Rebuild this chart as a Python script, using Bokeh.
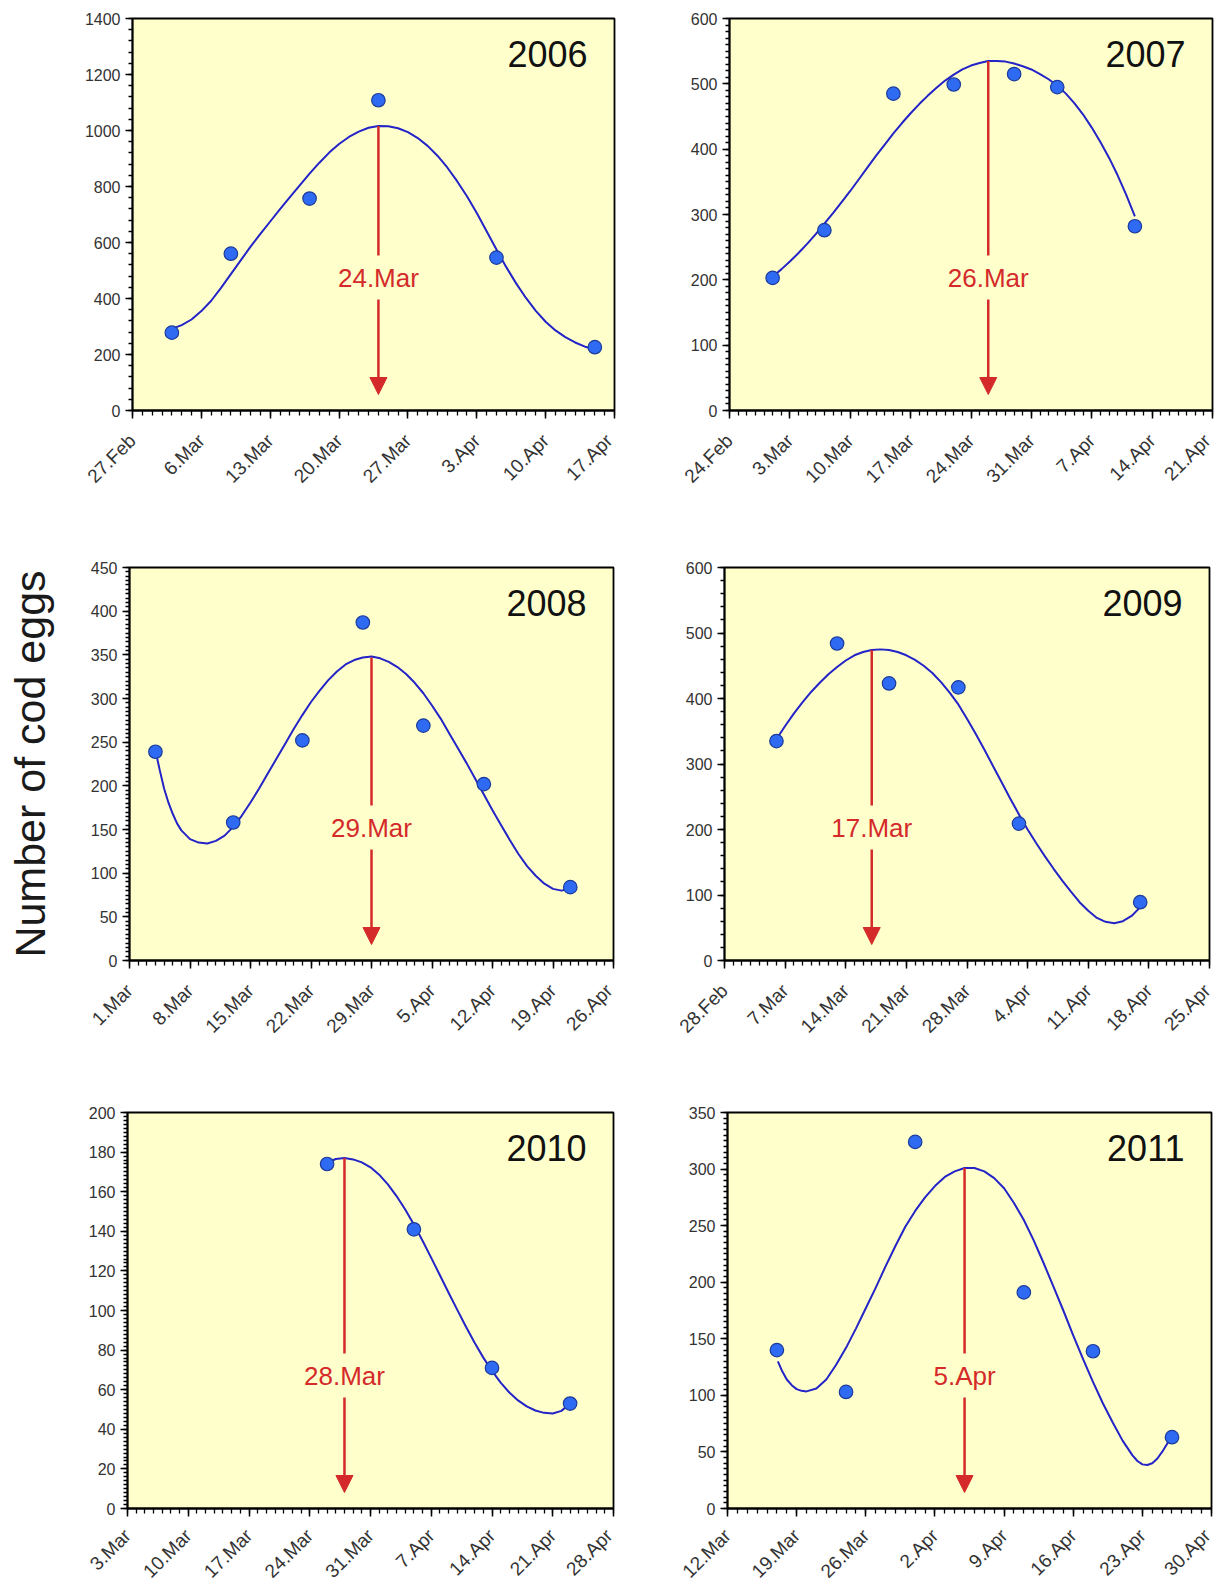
import numpy as np
import pandas as pd
from bokeh.plotting import figure
from bokeh.layouts import column, row
from bokeh.models import Range1d, FixedTicker, Label, Arrow, NormalHead
from bokeh.embed import file_html
from bokeh.resources import INLINE

# ---------------- data ----------------
years = ["2006", "2007", "2008", "2009", "2010", "2011"]
axis_start = ["2006-02-27", "2007-02-24", "2008-03-01", "2009-02-28", "2010-03-03", "2011-03-12"]
axis_days = [49, 56, 56, 56, 56, 49]
y_max = [1400, 600, 450, 600, 200, 350]
y_major = [200, 100, 50, 100, 20, 50]
y_minor = [40, 10, 5, 20, 2, 5]

xlabels_2006 = ["27.Feb", "6.Mar", "13.Mar", "20.Mar", "27.Mar", "3.Apr", "10.Apr", "17.Apr"]
xlabels_2007 = ["24.Feb", "3.Mar", "10.Mar", "17.Mar", "24.Mar", "31.Mar", "7.Apr", "14.Apr", "21.Apr"]
xlabels_2008 = ["1.Mar", "8.Mar", "15.Mar", "22.Mar", "29.Mar", "5.Apr", "12.Apr", "19.Apr", "26.Apr"]
xlabels_2009 = ["28.Feb", "7.Mar", "14.Mar", "21.Mar", "28.Mar", "4.Apr", "11.Apr", "18.Apr", "25.Apr"]
xlabels_2010 = ["3.Mar", "10.Mar", "17.Mar", "24.Mar", "31.Mar", "7.Apr", "14.Apr", "21.Apr", "28.Apr"]
xlabels_2011 = ["12.Mar", "19.Mar", "26.Mar", "2.Apr", "9.Apr", "16.Apr", "23.Apr", "30.Apr"]

dates_2006 = ["2006-03-03", "2006-03-09", "2006-03-17", "2006-03-24", "2006-04-05", "2006-04-15"]
eggs_2006 = [278, 560, 757, 1108, 546, 226]
dates_2007 = ["2007-03-01", "2007-03-07", "2007-03-15", "2007-03-22", "2007-03-29", "2007-04-03", "2007-04-12"]
eggs_2007 = [203, 276, 485, 499, 515, 495, 282]
dates_2008 = ["2008-03-04", "2008-03-13", "2008-03-21", "2008-03-28", "2008-04-04", "2008-04-11", "2008-04-21"]
eggs_2008 = [239, 158, 252, 387, 269, 202, 84]
dates_2009 = ["2009-03-06", "2009-03-13", "2009-03-19", "2009-03-27", "2009-04-03", "2009-04-17"]
eggs_2009 = [335, 484, 423, 417, 209, 89]
dates_2010 = ["2010-03-26", "2010-04-05", "2010-04-14", "2010-04-23"]
eggs_2010 = [174, 141, 71, 53]
dates_2011 = ["2011-03-17", "2011-03-24", "2011-03-31", "2011-04-11", "2011-04-18", "2011-04-26"]
eggs_2011 = [140, 103, 324, 191, 139, 63]

# fitted curves (days after the first axis date, eggs)
fit_day_2006 = [4.2, 5, 6, 7, 8, 9, 10, 11, 12, 13, 14, 15, 16, 17, 18, 19, 20, 21, 22, 23, 24, 25,
                26, 27, 28, 29, 30, 31, 32, 33, 34, 35, 36, 37, 38, 39, 40, 41, 42, 43, 44, 45, 46, 47]
fit_eggs_2006 = [294, 305, 325, 355, 392, 438, 487, 536, 585, 631, 675, 719, 762, 804, 846, 885, 921,
                 952, 977, 996, 1010, 1016, 1015, 1008, 994, 973, 945, 910, 868, 819, 765, 705, 640,
                 575, 512, 454, 402, 356, 317, 286, 262, 243, 228, 219]
fit_day_2007 = [5.3, 6, 7, 8, 9, 10, 11, 12, 13, 14, 15, 16, 17, 18, 19, 20, 21, 22, 23, 24, 25, 26,
                27, 28, 29, 30, 31, 32, 33, 34, 35, 36, 37, 38, 39, 40, 41, 42, 43, 44, 45, 46, 47]
fit_eggs_2007 = [208, 216, 228, 241, 255, 270, 286, 302, 319, 336, 354, 372, 390, 407, 424, 440, 455,
                 469, 482, 494, 505, 514, 522, 528, 532, 535, 535, 534, 531, 527, 522, 515, 507, 497,
                 485, 470, 453, 433, 411, 387, 360, 330, 297]
fit_day_2008 = [3.1, 3.5, 4, 4.5, 5, 5.5, 6, 7, 8, 9, 10, 11, 12, 13, 14, 15, 16, 17, 18, 19, 20, 21,
                22, 23, 24, 25, 26, 27, 28, 29, 30, 31, 32, 33, 34, 35, 36, 37, 38, 39, 40, 41, 42,
                43, 44, 45, 46, 47, 48, 49, 50, 50.8]
fit_eggs_2008 = [236, 218, 197, 181, 168, 157, 149, 139, 135, 134, 137, 143, 153, 166, 181, 197, 214,
                 231, 248, 265, 281, 296, 309, 321, 331, 339, 344, 347, 348, 346, 342, 336, 328, 318,
                 306, 292, 277, 260, 243, 226, 208, 190, 172, 155, 138, 122, 108, 97, 88, 82, 80, 82]
fit_day_2009 = [6.2, 7, 8, 9, 10, 11, 12, 13, 14, 15, 16, 17, 18, 19, 20, 21, 22, 23, 24, 25, 26, 27,
                28, 29, 30, 31, 32, 33, 34, 35, 36, 37, 38, 39, 40, 41, 42, 43, 44, 45, 46, 47, 47.9]
fit_eggs_2009 = [342, 358, 377, 394, 410, 424, 437, 448, 458, 466, 471, 474, 475, 474, 471, 466, 459,
                 450, 439, 425, 409, 391, 369, 346, 322, 297, 272, 247, 223, 200, 179, 159, 140, 122,
                 105, 89, 76, 65, 59, 57, 60, 68, 80]
fit_day_2010 = [23.2, 24, 25, 26, 27, 28, 29, 30, 31, 32, 33, 34, 35, 36, 37, 38, 39, 40, 41, 42, 43,
                44, 45, 46, 47, 48, 49, 50, 51]
fit_eggs_2010 = [175, 176.5, 177, 176.3, 174.8, 172.3, 168.6, 163.7, 157.8, 151, 143.4, 135.2, 126.6,
                 117.8, 109, 100.3, 91.8, 83.7, 76.2, 69.5, 63.6, 58.6, 54.6, 51.6, 49.5, 48.3, 48,
                 49.3, 53]
fit_day_2011 = [5.1, 5.5, 6, 6.5, 7, 7.5, 8, 9, 10, 11, 12, 13, 14, 15, 16, 17, 18, 19, 20, 21, 22, 23,
                24, 25, 26, 27, 28, 29, 30, 31, 32, 33, 34, 35, 36, 37, 38, 39, 40, 41, 41.5, 42,
                42.5, 43, 43.5, 44, 44.5, 44.9]
fit_eggs_2011 = [130, 122, 114, 109, 105.5, 104, 103.5, 106, 114, 127, 142, 159, 177, 195, 214, 232,
                 249, 263, 275, 285, 293, 298, 301, 301, 298, 292, 283, 270, 255, 237, 217, 196, 175,
                 153, 132, 112, 93, 76, 60, 47, 42, 39, 38.5, 40, 44, 50, 57, 64]

peak_date = ["2006-03-24", "2007-03-26", "2008-03-29", "2009-03-17", "2010-03-28", "2011-04-05"]
peak_label = ["24.Mar", "26.Mar", "29.Mar", "17.Mar", "28.Mar", "5.Apr"]
peak_eggs = [1016, 535, 347, 474, 177, 301]

y_title = "Number of cod eggs"

# ---------------- style / layout ----------------
FONT = "Liberation Sans"
YELLOW = "#FFFFCC"
RED = "#D42A2A"
CURVE = "#2323C8"
DOT_FILL = "#2F6BF2"
DOT_LINE = "#1B3A9C"
TICK_TXT = "#333333"

row_h = [557, 545, 491]
row_bt = [18, 10, 10]
frame_h = [392, 393, 396]
row_xstandoff = [19, 19, 16]
col_w = [616, 598]
b_left = [[132, 113], [129, 108], [127, 111]]
b_right = [[2, 2], [3, 5], [3, 3]]

all_dates = [dates_2006, dates_2007, dates_2008, dates_2009, dates_2010, dates_2011]
all_eggs = [eggs_2006, eggs_2007, eggs_2008, eggs_2009, eggs_2010, eggs_2011]
all_fd = [fit_day_2006, fit_day_2007, fit_day_2008, fit_day_2009, fit_day_2010, fit_day_2011]
all_fe = [fit_eggs_2006, fit_eggs_2007, fit_eggs_2008, fit_eggs_2009, fit_eggs_2010, fit_eggs_2011]
all_xl = [xlabels_2006, xlabels_2007, xlabels_2008, xlabels_2009, xlabels_2010, xlabels_2011]


def make_panel(i):
    r, c = divmod(i, 2)
    w, h, fh = col_w[c], row_h[r], frame_h[r]
    bl, br = b_left[r][c], b_right[r][c]
    bt = row_bt[r]
    bb = h - bt - fh
    fw = w - bl - br
    nd, ym = axis_days[i], y_max[i]
    start = pd.Timestamp(axis_start[i])

    p = figure(width=w, height=h, x_range=Range1d(0, nd), y_range=Range1d(0, ym),
               output_backend="svg", toolbar_location=None,
               min_border_left=bl, min_border_right=br, min_border_top=bt, min_border_bottom=bb)
    p.background_fill_color = YELLOW
    p.border_fill_color = "white"
    p.outline_line_color = "black"
    p.outline_line_width = 1.8
    p.xgrid.visible = False
    p.ygrid.visible = False

    # x axis
    xl = all_xl[i]
    p.xaxis.ticker = FixedTicker(ticks=[7 * k for k in range(len(xl))],
                                 minor_ticks=list(range(0, nd + 1)))
    p.xaxis.major_label_overrides = {7 * k: lab for k, lab in enumerate(xl)}
    p.xaxis.major_label_orientation = np.pi / 4
    p.xaxis.major_tick_out = 8
    p.xaxis.major_tick_in = 0
    p.xaxis.minor_tick_out = 5
    p.xaxis.minor_tick_in = 0
    p.xaxis.major_label_standoff = row_xstandoff[r]

    # y axis
    p.yaxis.ticker = FixedTicker(ticks=list(range(0, ym + 1, y_major[i])),
                                 minor_ticks=list(range(0, ym + 1, y_minor[i])))
    p.yaxis.major_tick_out = 7
    p.yaxis.major_tick_in = 0
    p.yaxis.minor_tick_out = 4
    p.yaxis.minor_tick_in = 0
    p.yaxis.major_label_standoff = 5

    for ax in (p.xaxis, p.yaxis):
        ax.axis_line_color = "black"
        ax.axis_line_width = 1.8
        ax.major_tick_line_color = "black"
        ax.major_tick_line_width = 1.5
        ax.minor_tick_line_color = "black"
        ax.minor_tick_line_width = 1.3
        ax.major_label_text_font = FONT
        ax.major_label_text_color = TICK_TXT
    p.xaxis.major_label_text_font_size = "19px"
    p.yaxis.major_label_text_font_size = "16px"

    if i == 2:
        p.yaxis.axis_label = y_title
        p.yaxis.axis_label_text_font = FONT
        p.yaxis.axis_label_text_font_size = "43px"
        p.yaxis.axis_label_text_font_style = "normal"
        p.yaxis.axis_label_text_color = "#1a1a1a"
        p.yaxis.axis_label_standoff = 34

    # fitted curve and samples
    p.line(all_fd[i], all_fe[i], line_color=CURVE, line_width=2, line_join="round")
    xs = [(pd.Timestamp(d) - start).days for d in all_dates[i]]
    p.scatter(xs, all_eggs[i], size=13.5, fill_color=DOT_FILL, line_color=DOT_LINE, line_width=1.2)

    # arrow at peak
    upp = ym / fh
    xpp = nd / fw
    px = (pd.Timestamp(peak_date[i]) - start).days
    lab_y = 133 * upp
    gap = 22 * upp
    tip = 16 * upp
    p.segment(x0=[px], y0=[peak_eggs[i]], x1=[px], y1=[lab_y + gap], line_color=RED, line_width=2.5)
    p.add_layout(Arrow(x_start=px, y_start=lab_y - gap, x_end=px, y_end=tip,
                       line_color=RED, line_width=2.5,
                       end=NormalHead(size=17, fill_color=RED, line_color=RED, line_width=1)))
    p.add_layout(Label(x=px, y=lab_y, text=peak_label[i], text_align="center", text_baseline="middle",
                       text_color=RED, text_font=FONT, text_font_size="26px"))

    # year
    p.add_layout(Label(x=nd - 27 * xpp, y=ym - 35 * upp, text=years[i], text_align="right",
                       text_baseline="middle", text_color="#111111", text_font=FONT,
                       text_font_size="36px"))
    return p


panels = [make_panel(i) for i in range(6)]
layout = column(row(panels[0], panels[1]), row(panels[2], panels[3]), row(panels[4], panels[5]))

open("out.html", "w").write(file_html(layout, INLINE))
